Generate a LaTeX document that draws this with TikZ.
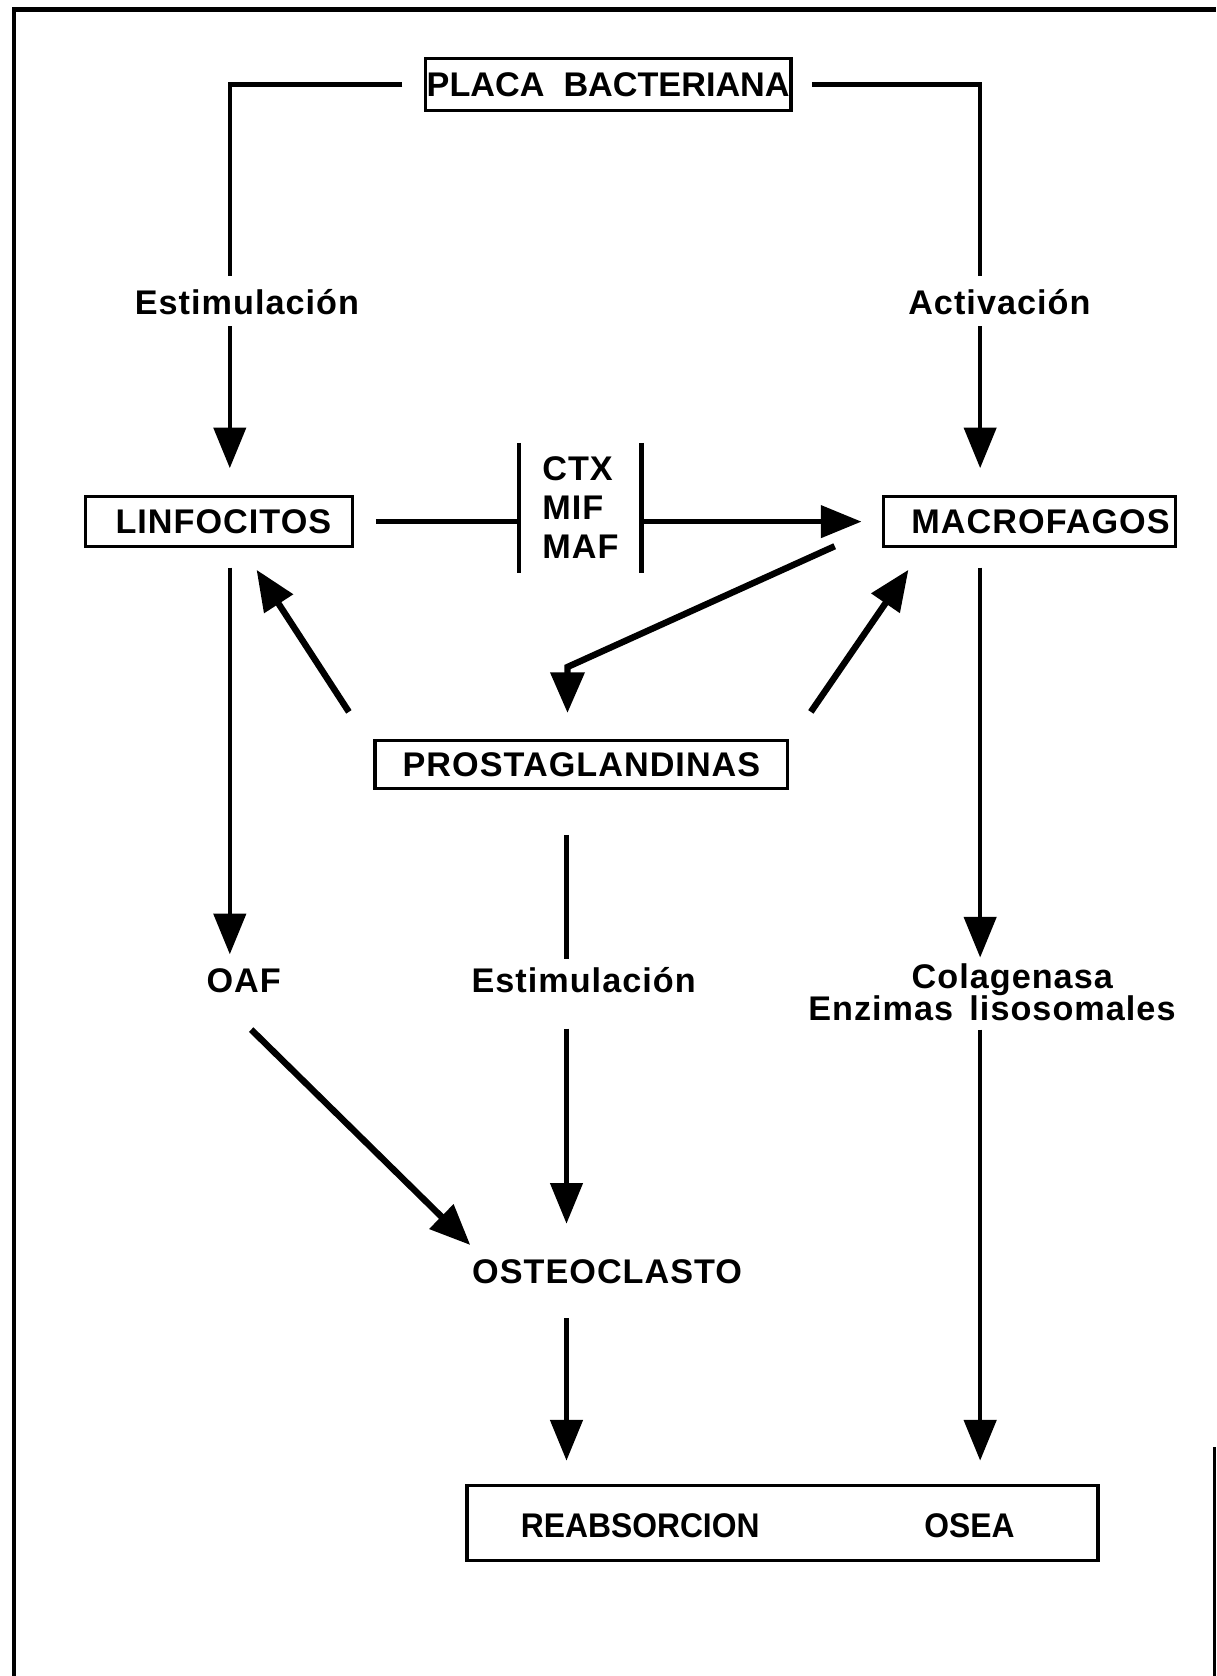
\documentclass[tikz,border=0pt]{standalone}
\usepackage{fontspec}
\setmainfont{Liberation Sans}[LetterSpace=3]
\newfontfamily\tightsf{Liberation Sans}
\newfontfamily\narrowsf{Liberation Sans}[FakeStretch=0.93]
\usetikzlibrary{arrows.meta,calc}
\tikzset{
  box/.style={draw, line width=0.3mm, inner sep=0pt, text height=2.3mm, text depth=0pt},
  lbl/.style={inner sep=0pt, text height=2.3mm, text depth=0pt},
  line/.style={line width=0.4mm},
  arr/.style={line width=0.4mm, -{Triangle[length=3.8mm,width=3mm]}},
  thickarr/.style={line width=0.6mm, -{Triangle[length=3.8mm,width=3.1mm]}},
}

\begin{document}
\begin{tikzpicture}[x=0.01cm, y=-0.01cm, font=\bfseries\fontsize{9.1}{10.4}\selectfont]
        \useasboundingbox (0,0) rectangle (1138,1568);
        % frame
        \draw[line width=0.4mm] (13,1568) -- (13,9) -- (1138,9);
        \draw[line width=0.3mm] (1136,1354) -- (1136,1568);

        % boxes
        \node[box, minimum width=3.42cm, minimum height=0.48cm] (placa) at (569,79) {\tightsf PLACA\ \ BACTERIANA};
        \node[box, minimum width=2.5cm, minimum height=0.47cm] (linf) at (205,488) {\hspace{0.8mm}LINFOCITOS};
        \node[box, minimum width=2.73cm, minimum height=0.47cm] (macro) at (963,488) {\hspace{2.1mm}MACROFAGOS};
        \node[box, minimum width=3.86cm, minimum height=0.45cm] (prosta) at (544,715) {PROSTAGLANDINAS};
        \node[box, minimum width=5.9cm, minimum height=0.7cm] (reabs) at (732,1425) {};
        \node[lbl] (reab) at (599,1427) {\narrowsf REABSORCION};
        \node[lbl] (osea) at (907,1427) {\narrowsf OSEA};

        % labels
        \node[lbl] (estl) at (231,283) {Estimulación};
        \node[lbl] (activ) at (935,283) {Activación};
        \node[align=left, inner sep=0pt, minimum width=1.13cm, minimum height=1.2cm] (cyt) at (543,475) {CTX\\MIF\\MAF};
        \node[lbl] (oaf) at (228,917) {OAF};
        \node[lbl] (estc) at (546,917) {Estimulación};
        \node[lbl] (colag) at (947,913) {Colagenasa};
        \node[lbl] (enzim) at (928,943) {Enzimas\ \,lisosomales};
        \node[lbl] (osteo) at (568,1189) {OSTEOCLASTO};

        \coordinate (lcol) at (215,0);
        \coordinate (rcol) at (917,0);
        \coordinate (ccol) at (530,0);

        % from the plaque
        \draw[line, shorten <=2mm, shorten >=1.3mm] (placa.west) -| (estl.north -| lcol);
        \draw[arr, shorten <=1mm, shorten >=2.5mm] (estl.south -| lcol) -- (linf.north -| lcol);
        \draw[line, shorten <=1.8mm, shorten >=1.3mm] (placa.east) -| (activ.north -| rcol);
        \draw[arr, shorten <=1mm, shorten >=2.5mm] (activ.south -| rcol) -- (macro.north -| rcol);

        % cytokines
        \draw[line, shorten <=2mm] (linf.east) -- (linf.east -| cyt.west);
        \draw[arr, shorten >=1.9mm] (cyt.east |- macro.west) -- (macro.west);
        \draw[line] (cyt.north west) -- (cyt.south west);
        \draw[line] (cyt.north east) -- (cyt.south east);

        % prostaglandins loop
        \draw[thickarr] ($(macro.south west)+(-44,-2)$) -- ++(-250,113) -- ++(0,43);
        \draw[thickarr] ($(prosta.north west)+(-23,-25)$) -- ($(linf.south)+(35,20)$);
        \draw[thickarr] ($(prosta.north east)+(20,-25)$) -- ($(macro.south west)+(25,20)$);

        % left column
        \draw[arr, shorten <=1.8mm, shorten >=1.2mm] (linf.south -| lcol) -- (oaf.north -| lcol);
        \draw[thickarr] ($(oaf.south)+(7,34)$) -- ($(osteo.north west)+(-1,-12)$);

        % centre column
        \draw[line, shorten <=4.2mm, shorten >=0.8mm] (prosta.south -| ccol) -- (estc.north -| ccol);
        \draw[arr, shorten <=3.3mm, shorten >=3.2mm] (estc.south -| ccol) -- (osteo.north -| ccol);
        \draw[arr, shorten <=3.2mm, shorten >=2.2mm] (osteo.south -| ccol) -- (reabs.north -| ccol);

        % right column
        \draw[arr, shorten <=1.8mm, shorten >=0.5mm] (macro.south -| rcol) -- (colag.north -| rcol);
        \draw[arr, shorten <=0.8mm, shorten >=2.2mm] (enzim.south -| rcol) -- (reabs.north -| rcol);
\end{tikzpicture}
\end{document}
